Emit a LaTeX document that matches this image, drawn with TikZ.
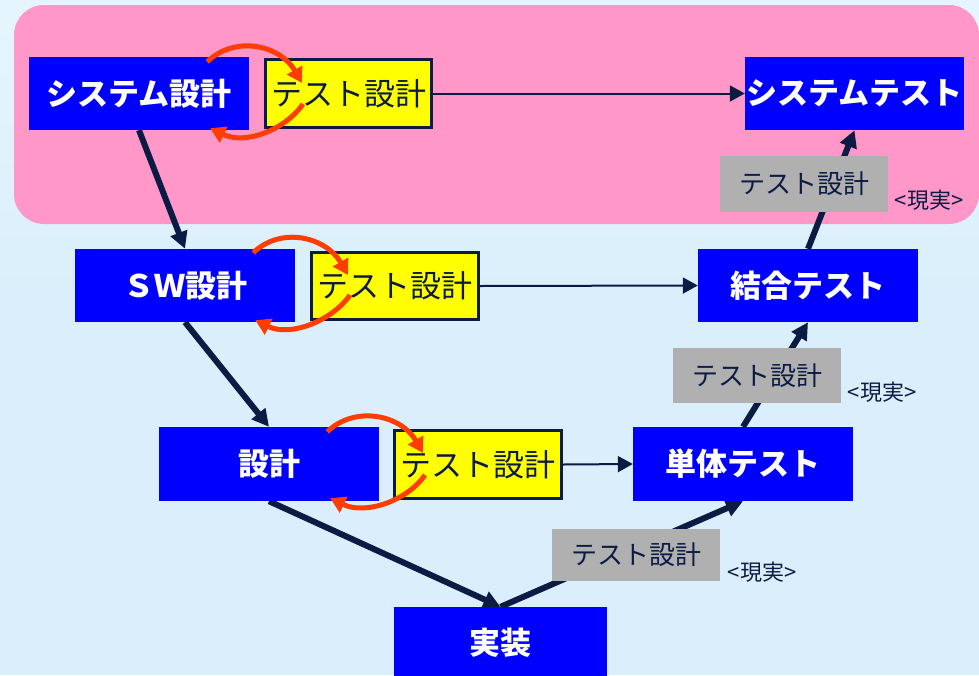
\documentclass[tikz,border=0pt]{standalone}
\usepackage{fontspec}
\setmainfont{Noto Sans CJK JP}
\usetikzlibrary{arrows.meta,calc}
\definecolor{bgblue}{HTML}{DAEFFB}
\definecolor{bgtop}{HTML}{E6F5FD}
\definecolor{pinkbg}{HTML}{FF97C9}
\definecolor{navy}{HTML}{0B1B44}
\definecolor{boxblue}{HTML}{0000FF}
\definecolor{boxyellow}{HTML}{FFFF00}
\definecolor{boxgray}{HTML}{B0B0B0}
\definecolor{redarrow}{HTML}{FF3D00}
\pgfdeclarelayer{back}
\pgfdeclarelayer{mid}
\pgfsetlayers{back,mid,main}
\begin{document}
\begin{tikzpicture}[x=1pt,y=-1pt,
  bluebox/.style={fill=boxblue,draw=none,inner sep=0pt,minimum width=220pt,minimum height=73pt,text=white,font=\fontsize{31}{31}\selectfont\bfseries},
  yelbox/.style={fill=boxyellow,draw=navy,line width=3pt,inner sep=0pt,minimum width=166pt,minimum height=68pt,text=navy,font=\fontsize{31}{31}\selectfont},
  graybox/.style={fill=boxgray,draw=none,inner sep=0pt,minimum width=168pt,minimum height=55pt,text=navy,font=\fontsize{26}{26}\selectfont},
  reallab/.style={inner sep=0pt,text=navy,font=\fontsize{22}{22}\selectfont},
  thick arrow/.style={draw=navy,line width=6pt,-{Triangle[length=17pt,width=17pt]}},
  thin arrow/.style={draw=navy,line width=2pt,-{Triangle[length=15pt,width=16pt]}},
  red arrow/.style={draw=redarrow,line width=5pt,-{Triangle[length=15pt,width=17pt]}}]
\useasboundingbox (0,0) rectangle (979,675);
\begin{pgfonlayer}{back}
  \shade[top color=bgtop,bottom color=bgblue] (0,0) rectangle (979,300);
  \fill[bgblue] (0,299) rectangle (979,675);
  \fill[pinkbg,rounded corners=30pt] (14,5) rectangle (979,224);
\end{pgfonlayer}

% nodes
\node[bluebox] (sys) at (139,93.5) {システム設計};
\node[yelbox] (ty1) at (348.5,93.5) {テスト設計};
\node[bluebox,minimum width=219pt] (systest) at (854.5,93.5) {システムテスト};
\node[graybox,minimum height=56pt] (g1) at (804,184) {テスト設計};
\node[reallab] (lab1) at (929,200) {<現実>};

\node[bluebox] (sw) at (185,285.5) {ＳＷ設計};
\node[yelbox,minimum width=167pt,minimum height=67pt] (ty2) at (395,286) {テスト設計};
\node[bluebox] (kt) at (808,285.5) {結合テスト};
\node[graybox] (g2) at (757,375.5) {テスト設計};
\node[reallab] (lab2) at (882,392) {<現実>};

\node[bluebox,minimum height=74pt] (ds) at (269,464) {設計};
\node[yelbox,minimum width=167pt] (ty3) at (478,464.5) {テスト設計};
\node[bluebox,minimum height=74pt] (tt) at (743,464) {単体テスト};
\node[graybox,minimum height=52pt] (g3) at (636,555) {テスト設計};
\node[reallab] (lab3) at (762,572) {<現実>};

\node[bluebox,minimum width=213pt,minimum height=72pt] (im) at (500.5,643) {実装};

% V-model arrows (behind boxes)
\begin{pgfonlayer}{mid}
  \draw[thick arrow] (sys.south) -- (sw.north);
  \draw[thick arrow] (sw.south) -- (ds.north);
  \draw[thick arrow] (ds.south) -- (im.north);
  \draw[thick arrow] (im.north) -- (tt.south);
  \draw[thick arrow] (tt.north) -- (kt.south);
  \draw[thick arrow] (kt.north) -- (systest.south);
  \draw[thin arrow] (ty1.east) -- (systest.west);
  \draw[thin arrow] (ty2.east) -- (kt.west);
  \draw[thin arrow] (ty3.east) -- (tt.west);
\end{pgfonlayer}

% red feedback arrows
\draw[red arrow] ($(sys.north east)+(-42,5)$) .. controls +(28,-27) and +(-22,-38) .. ($(ty1.north west)+(38,25)$);
\draw[red arrow] ($(ty1.north west)+(39,46)$) .. controls +(-18,26) and +(35,17) .. ($(sys.south east)+(-39,-2)$);

\draw[red arrow] ($(sw.north east)+(-42,4)$) .. controls +(28,-27) and +(-22,-38) .. ($(ty2.north west)+(38,24)$);
\draw[red arrow] ($(ty2.north west)+(40,44)$) .. controls +(-18,26) and +(35,17) .. ($(sw.south east)+(-40,-2)$);

\draw[red arrow] ($(ds.north east)+(-52,5)$) .. controls +(28,-27) and +(-22,-38) .. ($(ty3.north west)+(30,24)$);
\draw[red arrow] ($(ty3.north west)+(32,46)$) .. controls +(-18,26) and +(35,17) .. ($(ds.south east)+(-49,-3)$);
\end{tikzpicture}
\end{document}
